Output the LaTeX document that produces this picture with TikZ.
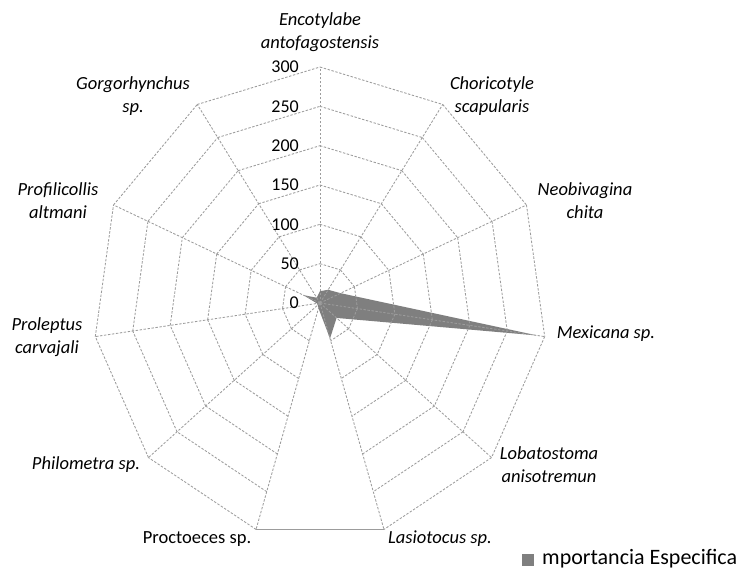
\documentclass[tikz,border=0pt]{standalone}
\usepackage{fontspec}
\setmainfont{Carlito}
\definecolor{gridgray}{HTML}{9C9C9C}
\definecolor{datagray}{HTML}{7F7F7F}
\begin{document}
\begin{tikzpicture}[x=1pt,y=-1pt,
  gridline/.style={draw=gridgray, line width=0.85pt, dash pattern=on 2.4pt off 1.6pt},
  outeredge/.style={draw=gridgray, line width=1.2pt},
  spec/.style={font=\fontsize{18.5}{23}\selectfont\itshape, align=center, inner sep=0pt},
  specup/.style={font=\fontsize{18.5}{23}\selectfont, align=center, inner sep=0pt},
  tick/.style={font=\fontsize{18}{20}\selectfont, anchor=east, inner sep=0pt},
]
\useasboundingbox (0,0) rectangle (745,574);
\fill[white] (0,0) rectangle (745,574);

% grid coordinates
\foreach \i in {0,...,10}{
  \foreach \k in {0,...,6}{
    \coordinate (g\i-\k) at ({320+0.7567*50*\k*cos(90-\i*32.72727)}, {303-0.7867*50*\k*sin(90-\i*32.72727)});
  }
}

% data polygon
\foreach \i/\v in {0/15,1/20,2/30,3/290,4/29,5/47,6/7,7/4,8/4,9/24,10/8}{
  \coordinate (d\i) at ({320+0.7567*\v*cos(90-\i*32.72727)}, {303-0.7867*\v*sin(90-\i*32.72727)});
}
\fill[datagray] (d0) -- (d1) -- (d2) -- (d3) -- (d4) -- (d5) -- (d6) -- (d7) -- (d8) -- (d9) -- (d10) -- cycle;

% rings
\foreach \k in {1,...,6}{
  \foreach \i in {0,1,2,3,4,6,7,8,9,10}{
    \pgfmathtruncatemacro{\j}{mod(\i+1,11)}
    \draw[gridline] (g\i-\k) -- (g\j-\k);
  }
}
\draw[outeredge] (g5-6) -- (g6-6);

% radial axes
\foreach \i in {0,...,10}{
  \draw[gridline] (g\i-0) -- (g\i-6);
}

% tick labels
\foreach \k/\lab in {0/0,1/50,2/100,3/150,4/200,5/250,6/300}{
  \node[tick] (t\k) at (299, {303-0.7867*50*\k}) {\lab};
}

% species labels
\node[spec] (l0) at (320,32) {Encotylabe\\antofagostensis};
\node[spec] (l1) at (492,96) {Choricotyle\\scapularis};
\node[spec] (l2) at (585,201) {Neobivagina\\chita};
\node[spec] (l3) at (606,334) {Mexicana sp.};
\node[spec] (l4) at (549,465) {Lobatostoma\\anisotremun};
\node[spec] (l5) at (440,539) {Lasiotocus sp.};
\node[specup] (l6) at (197,539) {Proctoeces sp.};
\node[spec] (l7) at (86,465) {Philometra sp.};
\node[spec] (l8) at (47,337) {Proleptus\\carvajali};
\node[spec] (l9) at (58,201) {Profilicollis\\altmani};
\node[spec] (l10) at (133,96) {Gorgorhynchus\\sp.};

% legend
\node[fill=datagray, minimum size=12pt, inner sep=0pt] (legsq) at (528,559.5) {};
\node[anchor=west, inner sep=0pt, font=\fontsize{22}{24}\selectfont] (legtxt) at (542,558.5) {mportancia Especifica};
\end{tikzpicture}
\end{document}
